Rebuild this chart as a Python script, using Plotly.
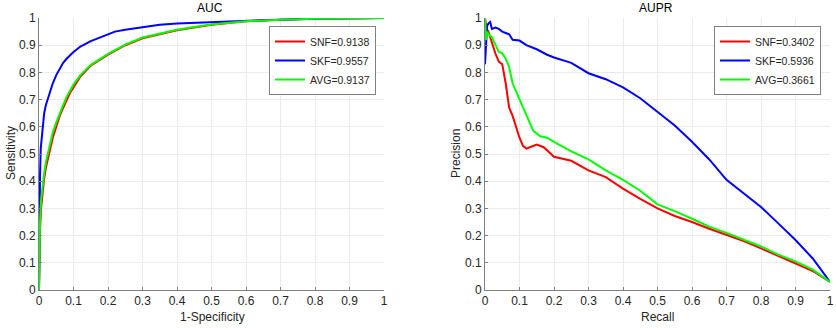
import plotly.graph_objects as go

# ROC data (1-Specificity, Sensitivity)
roc_snf_x = [0, 0.001, 0.003, 0.006, 0.01, 0.015, 0.02, 0.03, 0.04, 0.05, 0.06, 0.07, 0.08, 0.09, 0.1, 0.12, 0.15, 0.2, 0.25, 0.3, 0.35, 0.4, 0.45, 0.5, 0.6, 0.7, 0.8, 0.9, 1.0]
roc_snf_y = [0, 0.12, 0.22, 0.30, 0.36, 0.41, 0.45, 0.51, 0.56, 0.60, 0.64, 0.67, 0.70, 0.725, 0.745, 0.785, 0.825, 0.865, 0.9, 0.925, 0.94, 0.955, 0.965, 0.975, 0.988, 0.994, 0.997, 0.999, 1.0]
roc_skf_x = [0, 0.001, 0.003, 0.005, 0.01, 0.015, 0.02, 0.03, 0.04, 0.05, 0.06, 0.07, 0.08, 0.1, 0.12, 0.15, 0.2, 0.22, 0.25, 0.3, 0.35, 0.4, 0.5, 0.6, 0.7, 0.8, 0.9, 1.0]
roc_skf_y = [0, 0.25, 0.42, 0.52, 0.6, 0.65, 0.68, 0.72, 0.76, 0.79, 0.815, 0.835, 0.85, 0.875, 0.895, 0.915, 0.94, 0.95, 0.957, 0.967, 0.975, 0.98, 0.985, 0.99, 0.994, 0.997, 0.999, 1.0]
roc_avg_x = [0, 0.001, 0.003, 0.006, 0.01, 0.015, 0.02, 0.03, 0.04, 0.05, 0.06, 0.07, 0.08, 0.09, 0.1, 0.12, 0.15, 0.2, 0.25, 0.3, 0.35, 0.4, 0.45, 0.5, 0.6, 0.7, 0.8, 0.9, 1.0]
roc_avg_y = [0, 0.14, 0.25, 0.33, 0.38, 0.43, 0.47, 0.53, 0.58, 0.615, 0.65, 0.68, 0.71, 0.735, 0.755, 0.79, 0.828, 0.868, 0.902, 0.928, 0.943, 0.957, 0.967, 0.976, 0.988, 0.994, 0.997, 0.999, 1.0]

# PR data (Recall, Precision)
pr_snf_x = [0, 0.005, 0.01, 0.02, 0.03, 0.04, 0.05, 0.06, 0.07, 0.08, 0.09, 0.1, 0.11, 0.12, 0.13, 0.15, 0.17, 0.2, 0.25, 0.3, 0.35, 0.4, 0.45, 0.5, 0.55, 0.6, 0.65, 0.7, 0.75, 0.8, 0.85, 0.9, 0.95, 1.0]
pr_snf_y = [1.0, 0.96, 0.95, 0.91, 0.87, 0.84, 0.83, 0.76, 0.67, 0.64, 0.6, 0.56, 0.53, 0.52, 0.525, 0.535, 0.525, 0.49, 0.475, 0.44, 0.415, 0.373, 0.335, 0.3, 0.272, 0.25, 0.225, 0.202, 0.18, 0.153, 0.125, 0.098, 0.07, 0.03]
pr_skf_x = [0, 0.003, 0.006, 0.01, 0.015, 0.02, 0.03, 0.04, 0.05, 0.06, 0.07, 0.08, 0.1, 0.12, 0.15, 0.18, 0.2, 0.25, 0.3, 0.35, 0.4, 0.45, 0.5, 0.55, 0.6, 0.65, 0.7, 0.75, 0.8, 0.85, 0.9, 0.95, 1.0]
pr_skf_y = [0.83, 0.93, 0.97, 0.98, 0.985, 0.96, 0.965, 0.96, 0.95, 0.945, 0.94, 0.92, 0.917, 0.9, 0.885, 0.865, 0.855, 0.835, 0.797, 0.775, 0.745, 0.705, 0.655, 0.605, 0.545, 0.48, 0.405, 0.355, 0.305, 0.245, 0.184, 0.116, 0.03]
pr_avg_x = [0, 0.003, 0.006, 0.01, 0.02, 0.03, 0.04, 0.05, 0.06, 0.07, 0.08, 0.09, 0.1, 0.12, 0.14, 0.16, 0.18, 0.2, 0.25, 0.3, 0.35, 0.4, 0.45, 0.5, 0.55, 0.6, 0.65, 0.7, 0.75, 0.8, 0.85, 0.9, 0.95, 1.0]
pr_avg_y = [1.0, 0.92, 0.95, 0.94, 0.93, 0.9, 0.875, 0.87, 0.85, 0.82, 0.76, 0.73, 0.7, 0.64, 0.585, 0.565, 0.56, 0.545, 0.51, 0.48, 0.44, 0.405, 0.365, 0.315, 0.29, 0.262, 0.233, 0.21, 0.185, 0.16, 0.13, 0.105, 0.075, 0.03]

roc_names = ["SNF=0.9138", "SKF=0.9557", "AVG=0.9137"]
pr_names = ["SNF=0.3402", "SKF=0.5936", "AVG=0.3661"]
colors = ["#ff0000", "#0000ff", "#00ff00"]

tick_vals = [0, 0.1, 0.2, 0.3, 0.4, 0.5, 0.6, 0.7, 0.8, 0.9, 1]
tick_text = ["0", "0.1", "0.2", "0.3", "0.4", "0.5", "0.6", "0.7", "0.8", "0.9", "1"]

fig = go.Figure()
roc = [(roc_snf_x, roc_snf_y), (roc_skf_x, roc_skf_y), (roc_avg_x, roc_avg_y)]
pr = [(pr_snf_x, pr_snf_y), (pr_skf_x, pr_skf_y), (pr_avg_x, pr_avg_y)]
for (x, y), n, c in zip(roc, roc_names, colors):
    fig.add_trace(go.Scatter(x=x, y=y, mode="lines", name=n, line=dict(color=c, width=2),
                             xaxis="x", yaxis="y", legend="legend"))
for (x, y), n, c in zip(pr, pr_names, colors):
    fig.add_trace(go.Scatter(x=x, y=y, mode="lines", name=n, line=dict(color=c, width=2),
                             xaxis="x2", yaxis="y2", legend="legend2"))

W, H = 836, 328
FAM = "Liberation Sans, Arial, sans-serif"
font = dict(family=FAM, size=12, color="#262626")
ax_common = dict(range=[0, 1], tickvals=tick_vals, ticktext=tick_text, showgrid=True,
                 gridcolor="#ebebeb", gridwidth=1, showline=True, linecolor="#808080",
                 linewidth=1, ticks="inside", ticklen=3, tickcolor="#808080",
                 zeroline=False, tickfont=font, fixedrange=True, automargin=False)

leg_common = dict(bgcolor="white", bordercolor="#808080", borderwidth=1,
                  font=dict(family=FAM, size=10.5, color="#262626"),
                  xanchor="right", yanchor="top", tracegroupgap=0, itemwidth=30)


def ann(text, x, y, angle=0, color="#262626"):
    return dict(text=text, x=x / W, y=1 - y / H, xref="paper", yref="paper", showarrow=False,
                xanchor="center", yanchor="middle", textangle=angle,
                font=dict(family=FAM, size=12, color=color))


fig.update_layout(
    width=W, height=H, margin=dict(l=0, r=0, t=0, b=0, pad=0, autoexpand=False),
    plot_bgcolor="white", paper_bgcolor="white", font=font, showlegend=True,
    xaxis=dict(domain=[39 / W, 384 / W], anchor="y", **ax_common),
    yaxis=dict(domain=[1 - 290 / H, 1 - 18 / H], anchor="x", **ax_common),
    xaxis2=dict(domain=[485 / W, 830 / W], anchor="y2", **ax_common),
    yaxis2=dict(domain=[1 - 290 / H, 1 - 18 / H], anchor="x2", **ax_common),
    legend=dict(x=376 / W, y=1 - 26 / H, **leg_common),
    legend2=dict(x=821 / W, y=1 - 26 / H, **leg_common),
    annotations=[
        ann("AUC", 210, 8, color="black"),
        ann("AUPR", 656, 8, color="black"),
        ann("1-Specificity", 212, 317),
        ann("Recall", 657, 317),
        ann("Sensitivity", 11, 153, angle=-90),
        ann("Precision", 456, 153, angle=-90),
    ],
)

fig.write_html("out.html", config={"displayModeBar": False},
               post_script="document.body.style.margin='0';document.body.style.overflow='hidden';")
